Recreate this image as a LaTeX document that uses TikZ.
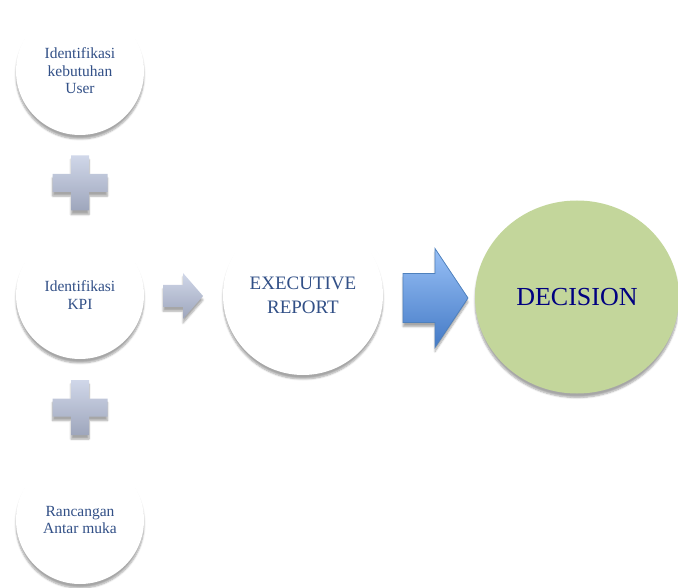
\documentclass[tikz,border=0pt]{standalone}
\usepackage{fontspec}
\setmainfont{Liberation Serif}
\usetikzlibrary{calc, shapes.geometric, shadows.blur}

\definecolor{textblue}{RGB}{50,80,135}
\definecolor{plustop}{RGB}{208,215,233}
\definecolor{plusbottom}{RGB}{158,166,188}
\definecolor{arrowtop}{RGB}{152,192,246}
\definecolor{arrowbottom}{RGB}{68,122,198}
\definecolor{arrowline}{RGB}{79,129,189}
\definecolor{decisiongreen}{RGB}{195,214,155}
\definecolor{decisionnavy}{RGB}{0,0,128}

\tikzset{
	softshadow/.style={blur shadow={shadow blur steps=6, shadow xshift=0pt, shadow yshift=-4pt, shadow opacity=35}},
	stepcircle/.style={circle, minimum size=128pt, inner sep=0pt, fill=white, softshadow, align=center, text=textblue, font=\fontsize{15.5}{17.5}\selectfont},
	reportcircle/.style={circle, minimum size=160pt, inner sep=0pt, fill=white, softshadow, align=center, text=textblue, font=\fontsize{19}{24}\selectfont},
	decisioncircle/.style={ellipse, minimum width=204pt, minimum height=193pt, inner sep=0pt, fill=decisiongreen, softshadow, text=decisionnavy, font=\fontsize{26}{30}\selectfont},
	plussign/.style={top color=plustop, bottom color=plusbottom, draw=none, softshadow},
	bigarrow/.style={top color=arrowtop, bottom color=arrowbottom, draw=arrowline, line width=0.8pt, softshadow}
}

\begin{document}
\begin{tikzpicture}[x=1pt, y=-1pt]
	\useasboundingbox (0,0) rectangle (678,588);

	\node[stepcircle] (kebutuhan) at (80,71) {Identifikasi\\kebutuhan\\User};
	\node[stepcircle] (kpi) at (80,295) {Identifikasi\\KPI};
	\node[stepcircle] (antarmuka) at (80,520) {Rancangan\\Antar muka};
	\node[reportcircle] (report) at (303,295) {EXECUTIVE\\REPORT};
	\node[decisioncircle] (decision) at (577,297) {DECISION};

	% plus signs between the left circles
	\foreach \a/\b in {kebutuhan/kpi, kpi/antarmuka}
		\path[plussign, shift={($(\a)!0.5!(\b)$)}]
			(-9,-27.5) -- (9,-27.5) -- (9,-9) -- (27.5,-9) -- (27.5,9) -- (9,9)
			-- (9,27.5) -- (-9,27.5) -- (-9,9) -- (-27.5,9) -- (-27.5,-9) -- (-9,-9) -- cycle;

	% arrows
	\path[plussign, shift={(163,296)}]
		(0,-11) -- (20,-11) -- (20,-23) -- (40,0) -- (20,23) -- (20,11) -- (0,11) -- cycle;
	\draw[bigarrow, shift={(403,298)}]
		(0,-24.5) -- (32,-24.5) -- (32,-49.5) -- (65,0) -- (32,49.5) -- (32,24.5) -- (0,24.5) -- cycle;
\end{tikzpicture}
\end{document}
